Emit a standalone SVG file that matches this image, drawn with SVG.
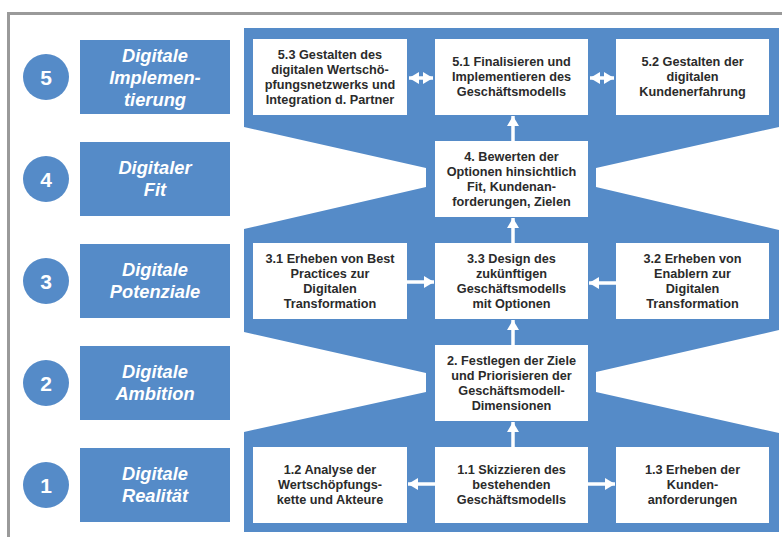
<svg xmlns="http://www.w3.org/2000/svg" width="782" height="537" viewBox="0 0 782 537">
<defs>
<style>
.bl{fill:#558bc8}
.bx{fill:#ffffff}
.t{font-family:"Liberation Sans",Arial,sans-serif;font-weight:bold;font-size:12.7px;fill:#2b2b2b;text-anchor:middle}
.lt{font-family:"Liberation Sans",Arial,sans-serif;font-weight:bold;font-style:italic;font-size:18.3px;fill:#ffffff;text-anchor:middle}
.nt{font-family:"Liberation Sans",Arial,sans-serif;font-weight:bold;font-size:21px;fill:#ffffff;text-anchor:middle}
.ar{stroke:#ffffff;stroke-width:3.5;fill:none;marker-end:url(#ah)}
.dar{stroke:#ffffff;stroke-width:3.5;fill:none;marker-end:url(#ah);marker-start:url(#ah)}
</style>
<marker id="ah" markerUnits="userSpaceOnUse" markerWidth="10" markerHeight="12" viewBox="0 0 10 12" refX="10" refY="6" orient="auto-start-reverse">
<path d="M0,0 L10,6 L0,12 z" fill="#ffffff"/>
</marker>
</defs>
<rect width="782" height="537" fill="#ffffff"/>
<path d="M8.5,537 V13.5 H782" fill="none" stroke="#9a9a9a" stroke-width="3"/>

<path id="band" class="bl" d="M244,28 H779 V127 L596,168 V187 L779,230 V330 L596,372 V392 L779,433 V532 H244 V432 L426,392 V373 L244,332 V229 L426,187 V168 L244,127 Z"/>

<g id="stage5"><circle class="bl" cx="46" cy="77" r="23"/><text class="nt" x="46" y="84.5">5</text><rect class="bl" x="80" y="40" width="150" height="74"/><text class="lt" x="155" y="62">Digitale</text><text class="lt" x="155" y="84">Implemen-</text><text class="lt" x="155" y="106">tierung</text></g>
<g id="stage4"><circle class="bl" cx="46" cy="179" r="23"/><text class="nt" x="46" y="186.5">4</text><rect class="bl" x="80" y="142" width="150" height="74"/><text class="lt" x="155" y="174">Digitaler</text><text class="lt" x="155" y="196">Fit</text></g>
<g id="stage3"><circle class="bl" cx="46" cy="281" r="23"/><text class="nt" x="46" y="288.5">3</text><rect class="bl" x="80" y="244" width="150" height="74"/><text class="lt" x="155" y="276">Digitale</text><text class="lt" x="155" y="298">Potenziale</text></g>
<g id="stage2"><circle class="bl" cx="46" cy="383" r="23"/><text class="nt" x="46" y="390.5">2</text><rect class="bl" x="80" y="346" width="150" height="74"/><text class="lt" x="155" y="378">Digitale</text><text class="lt" x="155" y="400">Ambition</text></g>
<g id="stage1"><circle class="bl" cx="46" cy="485" r="23"/><text class="nt" x="46" y="492.5">1</text><rect class="bl" x="80" y="448" width="150" height="74"/><text class="lt" x="155" y="480">Digitale</text><text class="lt" x="155" y="502">Realität</text></g>

<g id="n53"><rect class="bx" x="253" y="39" width="154" height="76"/><text class="t" x="330" y="59">5.3 Gestalten des</text><text class="t" x="330" y="74">digitalen Wertschö-</text><text class="t" x="330" y="89">pfungsnetzwerks und</text><text class="t" x="330" y="104">Integration d. Partner</text></g>
<g id="n51"><rect class="bx" x="435" y="39" width="153" height="76"/><text class="t" x="511.5" y="66">5.1 Finalisieren und</text><text class="t" x="511.5" y="81">Implementieren des</text><text class="t" x="511.5" y="96">Geschäftsmodells</text></g>
<g id="n52"><rect class="bx" x="616" y="39" width="153" height="76"/><text class="t" x="692.5" y="66">5.2 Gestalten der</text><text class="t" x="692.5" y="81">digitalen</text><text class="t" x="692.5" y="96">Kundenerfahrung</text></g>
<g id="n4"><rect class="bx" x="435" y="141" width="153" height="76"/><text class="t" x="511.5" y="161">4. Bewerten der</text><text class="t" x="511.5" y="176">Optionen hinsichtlich</text><text class="t" x="511.5" y="191">Fit, Kundenan-</text><text class="t" x="511.5" y="206">forderungen, Zielen</text></g>
<g id="n31"><rect class="bx" x="253" y="243" width="154" height="76"/><text class="t" x="330" y="263">3.1 Erheben von Best</text><text class="t" x="330" y="278">Practices zur</text><text class="t" x="330" y="293">Digitalen</text><text class="t" x="330" y="308">Transformation</text></g>
<g id="n33"><rect class="bx" x="435" y="243" width="153" height="76"/><text class="t" x="511.5" y="263">3.3 Design des</text><text class="t" x="511.5" y="278">zukünftigen</text><text class="t" x="511.5" y="293">Geschäftsmodells</text><text class="t" x="511.5" y="308">mit Optionen</text></g>
<g id="n32"><rect class="bx" x="616" y="243" width="153" height="76"/><text class="t" x="692.5" y="263">3.2 Erheben von</text><text class="t" x="692.5" y="278">Enablern zur</text><text class="t" x="692.5" y="293">Digitalen</text><text class="t" x="692.5" y="308">Transformation</text></g>
<g id="n2"><rect class="bx" x="435" y="345" width="153" height="76"/><text class="t" x="511.5" y="365">2. Festlegen der Ziele</text><text class="t" x="511.5" y="380">und Priorisieren der</text><text class="t" x="511.5" y="395">Geschäftsmodell-</text><text class="t" x="511.5" y="410">Dimensionen</text></g>
<g id="n12"><rect class="bx" x="253" y="447" width="154" height="76"/><text class="t" x="330" y="474">1.2 Analyse der</text><text class="t" x="330" y="489">Wertschöpfungs-</text><text class="t" x="330" y="504">kette und Akteure</text></g>
<g id="n11"><rect class="bx" x="435" y="447" width="153" height="76"/><text class="t" x="511.5" y="474">1.1 Skizzieren des</text><text class="t" x="511.5" y="489">bestehenden</text><text class="t" x="511.5" y="504">Geschäftsmodells</text></g>
<g id="n13"><rect class="bx" x="616" y="447" width="153" height="76"/><text class="t" x="692.5" y="474">1.3 Erheben der</text><text class="t" x="692.5" y="489">Kunden-</text><text class="t" x="692.5" y="504">anforderungen</text></g>

<g id="connectors">
<line class="dar" x1="409" y1="78" x2="433" y2="78"/>
<line class="dar" x1="590" y1="78" x2="614" y2="78"/>
<line class="ar" x1="513" y1="141" x2="513" y2="116"/>
<line class="ar" x1="513" y1="243" x2="513" y2="218"/>
<line class="ar" x1="513" y1="345" x2="513" y2="320"/>
<line class="ar" x1="513" y1="447" x2="513" y2="422"/>
<line class="ar" x1="407" y1="282" x2="434" y2="282"/>
<line class="ar" x1="616" y1="283" x2="589" y2="283"/>
<line class="ar" x1="435" y1="484" x2="408" y2="484"/>
<line class="ar" x1="588" y1="484" x2="615" y2="484"/>
</g>
</svg>
